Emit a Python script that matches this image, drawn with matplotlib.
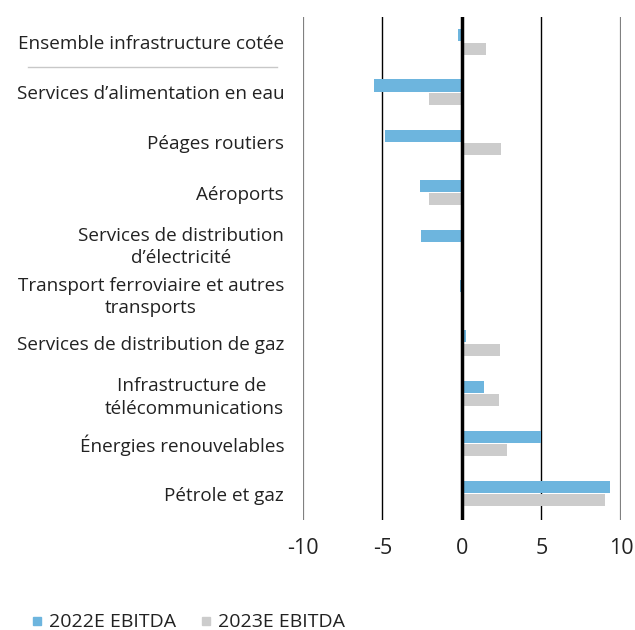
import numpy as np
import matplotlib.pyplot as plt
from matplotlib.lines import Line2D

plt.rcParams['font.family'] = ['Open Sans', 'DejaVu Sans']

categories = [
    "Ensemble infrastructure cotée",
    "Services d\u2019alimentation en eau",
    "Péages routiers",
    "Aéroports",
    "Services de distribution\nd\u2019électricité",
    "Transport ferroviaire et autres\ntransports",
    "Services de distribution de gaz",
    "Infrastructure de \ntélécommunications",
    "Énergies renouvelables",
    "Pétrole et gaz",
]
ebitda_2022 = [-0.25, -5.5, -4.85, -2.65, -2.55, -0.1, 0.25, 1.4, 5.0, 9.3]
ebitda_2023 = [1.5, -2.1, 2.45, -2.1, 0.15, 0.0, 2.4, 2.3, 2.8, 9.0]
series_names = ["2022E EBITDA", "2023E EBITDA"]

blue = "#6db5de"
grey = "#cccccc"

fig = plt.figure(figsize=(6.35, 6.3), dpi=100)
ax = fig.add_axes([0.477, 0.175, 0.501, 0.798])

y = np.arange(len(categories))
h = 0.24
ax.barh(y - 0.135, ebitda_2022, height=h, color=blue, zorder=2)
ax.barh(y + 0.135, ebitda_2023, height=h, color=grey, zorder=2)

ax.set_xlim(-10, 10)
ax.set_ylim(9.52, -0.5)
ax.set_xticks([-10, -5, 0, 5, 10])
ax.set_xticklabels(["-10", "-5", "0", "5", "10"])
ax.set_yticks(y)
ax.set_yticklabels(categories, fontsize=13.6, color="#222222", linespacing=1.3)
for lbl in ax.get_yticklabels():
    lbl.set_multialignment('center')
ax.tick_params(axis='y', length=0, pad=13.5)
ax.tick_params(axis='x', length=0, pad=13, labelsize=15.5, labelcolor="#222222")
for s in ax.spines.values():
    s.set_visible(False)

for xv, c, lw in [(-10, "#808080", 1.6), (-5, "black", 1.0), (5, "black", 1.0), (10, "#808080", 1.6)]:
    ax.axvline(xv, color=c, lw=lw, zorder=1)
ax.axvline(0, color="black", lw=2.5, zorder=3)

# separator under the first category label
fig.add_artist(Line2D([28 / 635, 277 / 635], [1 - 67 / 630, 1 - 67 / 630],
                      color="#c8c8c8", lw=1.0))

handles = [Line2D([], [], marker='s', ls='', color=blue, markersize=6),
           Line2D([], [], marker='s', ls='', color=grey, markersize=6)]
fig.legend(handles, series_names, loc='lower left', bbox_to_anchor=(0.015, -0.03),
           ncol=2, frameon=False, fontsize=14, handletextpad=0.15,
           columnspacing=1.0, handlelength=1.0, labelcolor="#222222")

fig.savefig("out.png", dpi=100)
